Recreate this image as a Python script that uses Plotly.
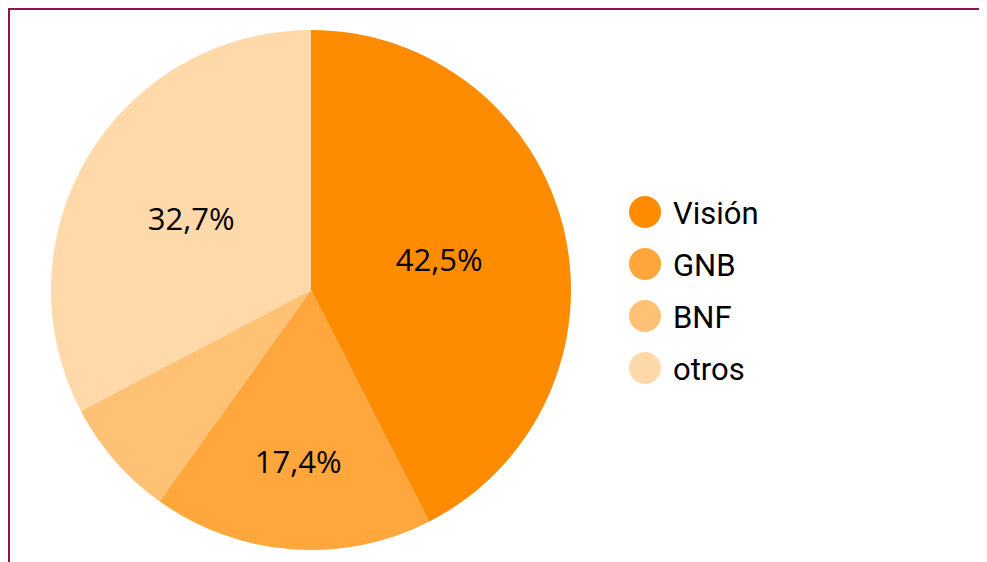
import plotly.graph_objects as go

labels = ["Visión", "GNB", "BNF", "otros"]
values = [42.5, 17.4, 7.4, 32.7]
colors = ["#FF8C00", "#FFA63C", "#FFC174", "#FFD9A9"]
text_templates = ["%{percent:.1%}", "%{percent:.1%}", "", "%{percent:.1%}"]

W, H = 987, 562
OFF = 8  # page body margin
def px(x):
    return (x - OFF) / W
def py(y):
    return 1 - (y - OFF) / H

fig = go.Figure()
fig.add_trace(go.Pie(
    labels=labels,
    values=values,
    sort=False,
    direction="clockwise",
    rotation=0,
    marker=dict(colors=colors, line=dict(width=0)),
    texttemplate=text_templates,
    textposition="inside",
    insidetextorientation="horizontal",
    textfont=dict(family="Open Sans", size=31, color="black"),
    domain=dict(x=[px(51), px(571)], y=[py(550), py(30)]),
    showlegend=False,
    hoverinfo="label+percent",
))

shapes = [dict(type="rect", xref="paper", yref="paper",
               x0=px(9), x1=px(W + 40), y0=py(H + 40), y1=py(9),
               line=dict(color="#8C1450", width=2), layer="above")]
annotations = []
for i, (lab, col) in enumerate(zip(labels, colors)):
    cy = 212 + 52 * i
    shapes.append(dict(type="circle", xref="paper", yref="paper",
                       x0=px(629), x1=px(661), y0=py(cy + 16), y1=py(cy - 16),
                       fillcolor=col, line=dict(width=0)))
    annotations.append(dict(xref="paper", yref="paper", x=px(671), y=py(cy + 1),
                            xanchor="left", yanchor="middle", showarrow=False,
                            text=lab, font=dict(family="Roboto", size=31, color="black")))

fig.update_layout(
    width=W, height=H,
    margin=dict(l=0, r=0, t=0, b=0),
    paper_bgcolor="white",
    plot_bgcolor="white",
    separators=",.",
    shapes=shapes,
    annotations=annotations,
)

fig.write_html("out.html")
